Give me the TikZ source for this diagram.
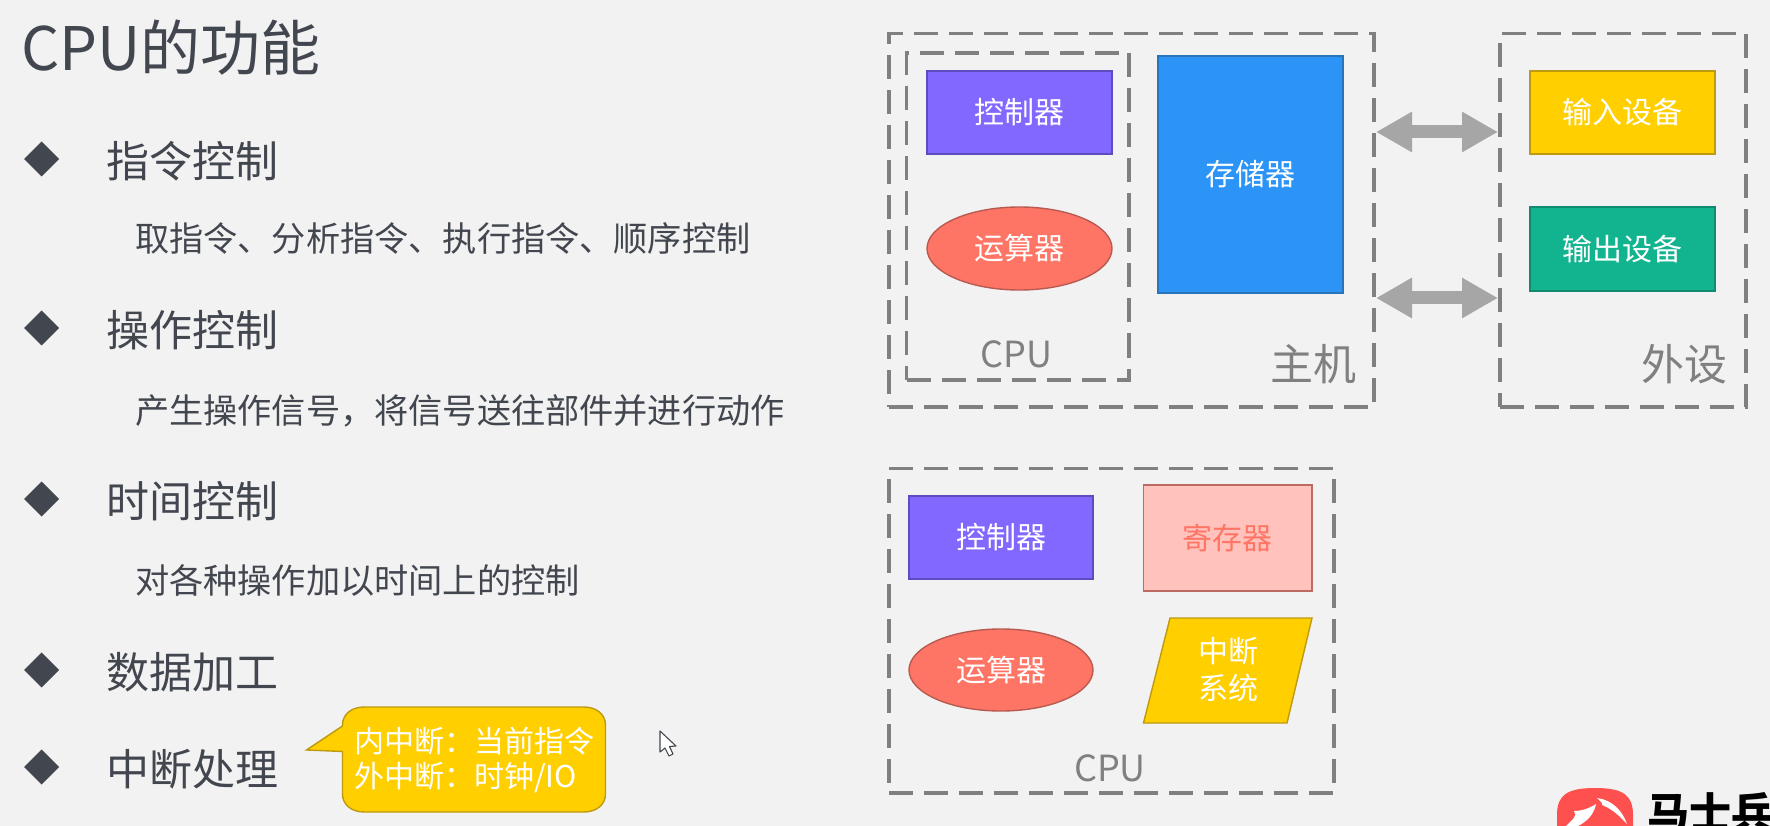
\documentclass[tikz,border=0pt]{standalone}
\usepackage{fontspec}
\setmainfont{Noto Sans CJK SC}
\definecolor{bgc}{HTML}{F2F2F2}
\definecolor{ink}{HTML}{42464F}
\definecolor{dashc}{HTML}{808080}
\definecolor{busc}{HTML}{A6A6A6}
\definecolor{labc}{HTML}{808080}
\definecolor{purp}{HTML}{8268FF}
\definecolor{purpd}{HTML}{5E4BC0}
\definecolor{coral}{HTML}{FF7565}
\definecolor{corald}{HTML}{B85A50}
\definecolor{blu}{HTML}{2B94F6}
\definecolor{blud}{HTML}{2A74BC}
\definecolor{yel}{HTML}{FFCF00}
\definecolor{yeld}{HTML}{BE9A10}
\definecolor{grn}{HTML}{12B48F}
\definecolor{grnd}{HTML}{128A70}
\definecolor{pnk}{HTML}{FFC2BC}
\definecolor{pnkd}{HTML}{BC6A62}
\definecolor{logored}{HTML}{FF5050}
\usetikzlibrary{shapes.geometric,arrows.meta}
\newcommand{\fs}[1]{\fontsize{#1}{#1}\selectfont}
\tikzset{
  x=1pt,y=-1pt,
  every node/.style={inner sep=0pt,outer sep=0pt},
  frame/.style={draw=dashc,line width=3.1pt,dash pattern=on 24pt off 11pt,rectangle},
  unit/.style={rectangle,line width=1.4pt,text=white,font=\fs{30}},
  oval/.style={ellipse,line width=1.4pt,text=white,font=\fs{30}},
  bus/.style={draw=busc,line width=13pt,{Triangle[length=36pt,width=38pt]}-{Triangle[length=36pt,width=38pt]}},
  lab/.style={text=labc,font=\fs{36}},
  bigl/.style={text=labc,font=\fs{43}},
  bullet/.style={fill=ink,diamond,minimum width=35pt,minimum height=35pt,aspect=1},
  item/.style={text=ink,font=\fs{43},anchor=west},
  subitem/.style={text=ink,font=\fs{34.2},anchor=west},
  calltext/.style={text=white,font=\fs{30},anchor=west}
}
\begin{document}
\begin{tikzpicture}
\useasboundingbox (0,0) rectangle (1770,826);
\clip (0,0) rectangle (1770,826);
\fill[bgc] (0,0) rectangle (1770,826);
% left column
\node[text=ink,font=\fs{60},anchor=west] (title) at (21,48) {CPU的功能};
\node[bullet] (b1) at (41.7,159) {};
\node[item] (i1) at (106,161) {指令控制};
\node[subitem] (s1) at (135,239) {取指令、分析指令、执行指令、顺序控制};
\node[bullet] (b2) at (41.7,328) {};
\node[item] (i2) at (106,330) {操作控制};
\node[subitem] (s2) at (135,411) {产生操作信号，将信号送往部件并进行动作};
\node[bullet] (b3) at (41.7,499) {};
\node[item] (i3) at (106,501) {时间控制};
\node[subitem] (s3) at (135,580) {对各种操作加以时间上的控制};
\node[bullet] (b4) at (41.7,670) {};
\node[item] (i4) at (106,672) {数据加工};
\node[bullet] (b5) at (41.7,767) {};
\node[item] (i5) at (106,769) {中断处理};
% callout
\draw[fill=yel,draw=yeld,line width=1.4pt]
  (306.5,750) -- (342.5,726) -- (342.5,725)
  .. controls (342.5,714) and (352,707) .. (364,707)
  -- (584,707) .. controls (596,707) and (605.5,714) .. (605.5,725)
  -- (605.5,794) .. controls (605.5,805) and (596,812) .. (584,812)
  -- (364,812) .. controls (352,812) and (342.5,805) .. (342.5,794)
  -- (342.5,751.5) -- cycle;
\node[calltext] (c1) at (354,741) {内中断：当前指令};
\node[calltext] (c2) at (354,778) {外中断：时钟/IO};
% cursor
\draw[fill=white,draw=ink,line width=1.1pt,line join=round]
  (660,731) -- (660,752) -- (665,748) -- (669,756) -- (673,754) -- (669.5,746.5) -- (676,746) -- cycle;
% top right
\node[frame,minimum width=485pt,minimum height=373.5pt] (host) at (1131.5,220.25) {};
\node[frame,minimum width=222.5pt,minimum height=327pt] (cpuA) at (1017.75,216.5) {};
\node[unit,fill=purp,draw=purpd,minimum width=185pt,minimum height=83pt] (ctlA) at (1019.5,112.5) {控制器};
\node[oval,fill=coral,draw=corald,minimum width=185pt,minimum height=83pt] (aluA) at (1019.5,248.5) {运算器};
\node[unit,fill=blu,draw=blud,minimum width=185pt,minimum height=237pt] (mem) at (1250.5,174.5) {存储器};
\node[frame,minimum width=246pt,minimum height=373.5pt] (per) at (1623,220.25) {};
\node[unit,fill=yel,draw=yeld,minimum width=185pt,minimum height=83pt] (inp) at (1622.5,112.5) {输入设备};
\node[unit,fill=grn,draw=grnd,minimum width=185pt,minimum height=84pt] (outp) at (1622.5,249) {输出设备};
\node[lab] (cpuAl) at (1016.5,354) {CPU};
\node[bigl] (hostl) at (1313,364) {主机};
\node[bigl] (perl) at (1684,364) {外设};
\coordinate (busAy) at (0,132);
\coordinate (busBy) at (0,298);
\draw[bus] ([xshift=2pt]host.east |- busAy) -- ([xshift=-2pt]per.west |- busAy);
\draw[bus] ([xshift=2pt]host.east |- busBy) -- ([xshift=-2pt]per.west |- busBy);
% bottom right
\node[frame,minimum width=445pt,minimum height=324.3pt] (cpuB) at (1111.5,630.85) {};
\node[unit,fill=purp,draw=purpd,minimum width=184pt,minimum height=83pt] (ctlB) at (1001,537.5) {控制器};
\node[unit,fill=pnk,draw=pnkd,text=coral,minimum width=168.5pt,minimum height=106pt] (reg) at (1227.75,538) {寄存器};
\node[oval,fill=coral,draw=corald,minimum width=184pt,minimum height=82pt] (aluB) at (1001,670) {运算器};
\draw[fill=yel,draw=yeld,line width=1.4pt] (1170,618) -- (1312,618) -- (1287,723) -- (1143.5,723) -- cycle;
\node[text=white,font=\fs{30}] (intA) at (1228,651) {中断};
\node[text=white,font=\fs{30}] (intB) at (1228,688) {系统};
\node[lab] (cpuBl) at (1110,768) {CPU};
% logo
\fill[logored] (1557,815) .. controls (1557,795) and (1567,788) .. (1595,788)
  .. controls (1623,788) and (1633,795) .. (1633,815) -- (1633,860) -- (1557,860) -- cycle;
\fill[white] (1597,798) .. controls (1612,800) and (1622,810) .. (1627,824)
  .. controls (1618,814) and (1610,808) .. (1602,805) .. controls (1603,803) and (1600,801) .. (1597,798) -- cycle;
\fill[white] (1574,811) .. controls (1582,811) and (1590,808) .. (1596,804)
  .. controls (1594,815) and (1586,822) .. (1578,826) -- (1566,826) .. controls (1572,820) and (1578,816) .. (1574,811) -- cycle;
\node[text=black,font=\fs{42},anchor=north west] (logo) at (1647,793) {\bfseries 马士兵};
\end{tikzpicture}
\end{document}
